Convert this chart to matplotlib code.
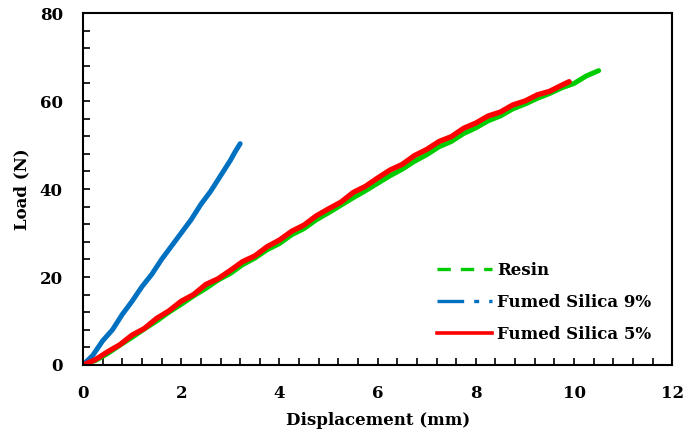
import matplotlib
matplotlib.use("Agg")
import matplotlib.pyplot as plt
from matplotlib.ticker import MultipleLocator
from matplotlib.lines import Line2D

# Data
resin_x = [0, 0.25, 0.5, 0.75, 1.0, 1.25, 1.5, 1.75, 2.0, 2.25, 2.5, 2.75, 3.0, 3.25, 3.5, 3.75,
           4.0, 4.25, 4.5, 4.75, 5.0, 5.25, 5.5, 5.75, 6.0, 6.25, 6.5, 6.75, 7.0, 7.25, 7.5, 7.75,
           8.0, 8.25, 8.5, 8.75, 9.0, 9.25, 9.5, 9.75, 10.0, 10.25, 10.5]
resin_y = [0.3, 1.0, 2.6, 4.5, 6.3, 8.2, 10.0, 12.0, 13.8, 15.7, 17.4, 19.3, 20.8, 22.8, 24.3, 26.2,
           27.6, 29.6, 31.0, 33.0, 34.6, 36.3, 38.0, 39.6, 41.3, 43.0, 44.5, 46.3, 47.8, 49.6, 50.8, 52.6,
           53.9, 55.5, 56.6, 58.2, 59.3, 60.6, 61.7, 63.0, 64.0, 65.7, 66.9]

fs9_x = [0, 0.2, 0.4, 0.6, 0.8, 1.0, 1.2, 1.4, 1.6, 1.8, 2.0, 2.2, 2.4, 2.6, 2.8, 3.0, 3.1, 3.2]
fs9_y = [0, 2.2, 5.5, 8.0, 11.5, 14.5, 17.8, 20.6, 24.0, 27.0, 30.0, 33.0, 36.5, 39.5, 43.0, 46.5, 48.5, 50.3]

fs5_x = [0, 0.25, 0.5, 0.75, 1.0, 1.25, 1.5, 1.75, 2.0, 2.25, 2.5, 2.75, 3.0, 3.25, 3.5, 3.75,
         4.0, 4.25, 4.5, 4.75, 5.0, 5.25, 5.5, 5.75, 6.0, 6.25, 6.5, 6.75, 7.0, 7.25, 7.5, 7.75,
         8.0, 8.25, 8.5, 8.75, 9.0, 9.25, 9.5, 9.75, 9.9]
fs5_y = [0.0, 1.2, 3.0, 4.6, 6.8, 8.3, 10.6, 12.3, 14.5, 16.0, 18.3, 19.6, 21.5, 23.5, 24.8, 26.9,
         28.4, 30.4, 31.8, 33.9, 35.5, 37.0, 39.2, 40.6, 42.5, 44.3, 45.6, 47.6, 49.0, 50.8, 51.9, 53.8,
         55.0, 56.6, 57.5, 59.1, 60.0, 61.4, 62.2, 63.6, 64.4]

labels = ["Resin", "Fumed Silica 9%", "Fumed Silica 5%"]
colors = ["#00cc00", "#0070c0", "#ff0000"]

plt.rcParams['font.family'] = ['DejaVu Serif']
plt.rcParams['font.weight'] = 'bold'

fig = plt.figure(figsize=(6.86, 4.34), dpi=100)
ax = fig.add_axes([0.121, 0.159, 0.859, 0.811])

ax.plot(resin_x, resin_y, color=colors[0], lw=3.6, solid_capstyle='round')
ax.plot(fs9_x, fs9_y, color=colors[1], lw=3.6, solid_capstyle='round')
ax.plot(fs5_x, fs5_y, color=colors[2], lw=3.8, solid_capstyle='round')

ax.set_xlim(0, 12)
ax.set_ylim(0, 80)
ax.xaxis.set_major_locator(MultipleLocator(2))
ax.xaxis.set_minor_locator(MultipleLocator(0.4))
ax.yaxis.set_major_locator(MultipleLocator(20))
ax.yaxis.set_minor_locator(MultipleLocator(4))
ax.tick_params(which='both', direction='in', length=5, width=1.2, labelsize=12)
ax.tick_params(which='major', pad=14.5)
for s in ax.spines.values():
    s.set_linewidth(1.5)
for t in ax.get_xticklabels() + ax.get_yticklabels():
    t.set_fontweight('bold')

ax.set_xlabel("Displacement (mm)", fontsize=12, fontweight='bold', labelpad=7)
ax.set_ylabel("Load (N)", fontsize=12, fontweight='bold', labelpad=7)

handles = [
    Line2D([], [], color=colors[0], lw=2.4, dashes=(4, 3)),
    Line2D([], [], color=colors[1], lw=2.4, dashes=(8, 3, 1.5, 3)),
    Line2D([], [], color=colors[2], lw=2.6),
]
leg = ax.legend(handles, labels, loc='lower right', bbox_to_anchor=(0.99, 0.02), frameon=False,
                prop={'weight': 'bold', 'size': 12}, handlelength=3.3, labelspacing=0.9,
                handletextpad=0.3)

fig.savefig("out.png", dpi=100)
